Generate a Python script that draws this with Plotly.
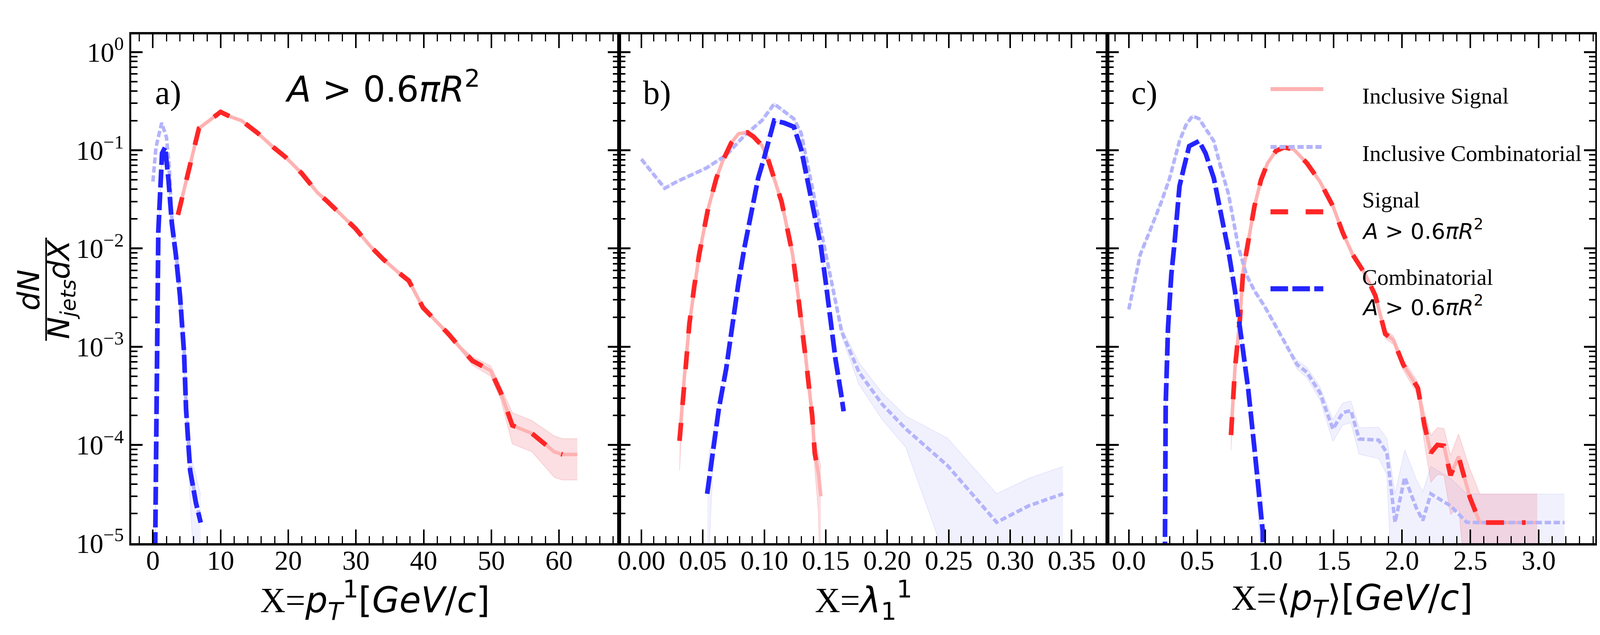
import plotly.graph_objects as go
from plotly.subplots import make_subplots

# ---- panel a: X = leading track pT ----
a_sig_x = [3.7, 5.9, 6.8, 10.0, 11.4, 13.1, 15.5, 17.8, 19.6, 22.0, 24.3, 25.8, 28.5, 29.9, 32.2,
           34.0, 36.0, 37.8, 39.9, 41.6, 43.7, 45.5, 47.2, 49.9, 51.4, 53.1, 56.0, 59.3, 60.5, 62.7]
a_sig_y = [0.022, 0.093, 0.167, 0.245, 0.22, 0.20, 0.149, 0.107, 0.085, 0.058, 0.037, 0.030, 0.020,
           0.016, 0.0104, 0.0078, 0.0059, 0.0047, 0.0025, 0.0019, 0.00134, 0.00096, 0.00072, 0.00057,
           0.00034, 0.000158, 0.000131, 0.000085, 0.00008, 0.00008]
a_sig_err = [0.03] * 21 + [0.05, 0.1, 0.12, 0.15, 0.35, 0.35, 0.45, 0.45, 0.45]

a_incomb_x = [0.0, 0.45, 1.3, 2.0, 2.4, 2.8, 3.4, 4.0, 4.6, 4.9, 5.5, 6.35, 7.06]
a_incomb_y = [0.048, 0.107, 0.19, 0.135, 0.07, 0.02, 0.0092, 0.0036, 0.00095, 0.00025, 0.00006,
              0.000027, 0.000017]

a_comb_x = [0.3, 0.8, 1.35, 1.8, 2.3, 2.8, 3.4, 4.0, 4.6, 4.9, 5.5, 6.35, 7.06]
a_comb_y = [5e-6, 0.015, 0.093, 0.107, 0.05, 0.018, 0.0085, 0.0033, 0.00087, 0.00023, 0.000055,
            0.0000258, 0.0000162]
a_comb_err = [0.03] * 10 + [0.5, 0.9, 0.9]

# ---- panel b: X = lambda_1^1 ----
b_sig_x = [0.031, 0.035, 0.039, 0.043, 0.047, 0.054, 0.061, 0.066, 0.073, 0.079, 0.086, 0.091, 0.098,
           0.103, 0.108, 0.114, 0.119, 0.123, 0.127, 0.131, 0.135, 0.139, 0.141, 0.144, 0.146]
b_sig_y = [0.00011, 0.0005, 0.0017, 0.0041, 0.0087, 0.0245, 0.052, 0.077, 0.118, 0.147, 0.152, 0.138,
           0.112, 0.081, 0.052, 0.030, 0.0152, 0.0087, 0.0037, 0.00156, 0.00055, 0.000195, 0.000083,
           0.000051, 0.00003]
b_sig_err = [0.5] + [0.03] * 20 + [0.1, 0.3, 0.6, 0.95]

b_incomb_x = [0.000, 0.019, 0.029, 0.053, 0.069, 0.084, 0.098, 0.108, 0.124, 0.130, 0.138, 0.148,
              0.156, 0.163, 0.177, 0.196, 0.215, 0.249, 0.289, 0.315, 0.343]
b_incomb_y = [0.081, 0.041, 0.048, 0.066, 0.089, 0.142, 0.20, 0.296, 0.209, 0.149, 0.048, 0.0115,
              0.0037, 0.00141, 0.00055, 0.000258, 0.000146, 0.0000616, 0.0000163, 0.000024, 0.0000318]
b_incomb_err = [0.03] * 13 + [0.1, 0.25, 0.3, 0.35, 0.9, 0.95, 0.9, 0.9]

b_comb_x = [0.0535, 0.058, 0.063, 0.069, 0.074, 0.079, 0.084, 0.090, 0.095, 0.100, 0.106, 0.108,
            0.116, 0.124, 0.130, 0.135, 0.140, 0.146, 0.150, 0.154, 0.158, 0.1625, 0.1645]
b_comb_y = [0.0000318, 0.000091, 0.000234, 0.0006, 0.00173, 0.0045, 0.0105, 0.027, 0.052, 0.085,
            0.165, 0.20, 0.19, 0.173, 0.102, 0.052, 0.0245, 0.0105, 0.0045, 0.00173, 0.00073,
            0.00033, 0.00022]
b_comb_err = [0.9, 0.4] + [0.03] * 21

# ---- panel c: X = <pT> ----
c_sig_x = [0.748, 0.777, 0.813, 0.837, 0.873, 0.920, 0.968, 1.016, 1.076, 1.136, 1.207, 1.303, 1.399,
           1.494, 1.566, 1.638, 1.733, 1.805, 1.877, 1.937, 2.008, 2.116, 2.164, 2.211, 2.259, 2.307,
           2.355, 2.414, 2.498, 2.570, 2.905, 2.99]
c_sig_y = [0.000126, 0.0006, 0.0019, 0.0059, 0.0115, 0.027, 0.050, 0.074, 0.098, 0.107, 0.102, 0.074,
           0.048, 0.027, 0.0145, 0.0087, 0.0054, 0.0033, 0.00135, 0.00117, 0.00066, 0.00038, 0.00016,
           0.000083, 0.0001, 0.000098, 0.000049, 0.000076, 0.0000289, 0.0000162, 0.0000162, 0.0000162]
c_sig_err = [0.3] + [0.03] * 17 + [0.1, 0.1, 0.12, 0.15, 0.35, 0.5, 0.5, 0.5, 0.6, 0.7, 0.95,
                                     0.95, 0.95, 0.95]

c_incomb_x = [0.0, 0.048, 0.084, 0.155, 0.239, 0.299, 0.371, 0.418, 0.466, 0.514, 0.562, 0.622, 0.669,
              0.729, 0.801, 0.861, 0.920, 0.992, 1.064, 1.160, 1.231, 1.303, 1.399, 1.494, 1.566,
              1.626, 1.686, 1.829, 1.889, 1.949, 2.020, 2.104, 2.152, 2.211, 2.355, 2.474, 2.570,
              2.9, 3.19]
c_incomb_y = [0.0024, 0.0049, 0.0087, 0.0152, 0.030, 0.052, 0.124, 0.18, 0.223, 0.209, 0.165, 0.124,
              0.070, 0.036, 0.0105, 0.0054, 0.0037, 0.0026, 0.00173, 0.00098, 0.00066, 0.00055,
              0.00034, 0.000145, 0.000213, 0.000224, 0.000115, 0.000112, 0.000083, 0.0000163,
              0.0000468, 0.0000229, 0.000017, 0.0000318, 0.000024, 0.0000163, 0.0000162, 0.0000162,
              0.0000162]
c_incomb_err = [0.03] * 20 + [0.1, 0.12, 0.15, 0.25, 0.25, 0.25, 0.3, 0.35, 0.4, 0.95, 0.9, 0.95,
                              0.95, 0.9, 0.9, 0.95, 0.95, 0.95, 0.95]

c_comb_x = [0.263, 0.270, 0.287, 0.311, 0.335, 0.371, 0.407, 0.442, 0.514, 0.562, 0.622, 0.681, 0.729,
            0.777, 0.825, 0.873, 0.920, 0.956, 0.980, 0.985]
c_comb_y = [4e-6, 0.00026, 0.00156, 0.0054, 0.0115, 0.043, 0.070, 0.110, 0.124, 0.093, 0.052, 0.020,
            0.0095, 0.0037, 0.00117, 0.00038, 0.000091, 0.0000318, 0.0000134, 4e-6]
c_comb_err = [0.0] + [0.03] * 14 + [0.15, 0.3, 0.6, 0.8, 0.0]

decade_vals = [1e-5, 1e-4, 1e-3, 1e-2, 1e-1, 1]
decade_text = ["10<sup>\u22125</sup>", "10<sup>\u22124</sup>", "10<sup>\u22123</sup>",
               "10<sup>\u22122</sup>", "10<sup>\u22121</sup>", "10<sup>0</sup>"]

PINK = "#ffb2b2"
LBLUE = "#b4b4fa"
RED = "#ff2626"
BLUE = "#2424ff"
SERIF = "Liberation Serif"
MATH = "DejaVu Sans"

# the browser viewport comes out 4096 css px wide, so horizontal sizes are scaled down
REF_W, H = 5000, 1625
W = 4096
KX = W / REF_W
L_REF, R_REF, T, B = 400, 25, 80, 243


def px(x):
    return (x - L_REF) / (REF_W - L_REF - R_REF)


def py(y):
    return (H - B - y) / (H - T - B)


fig = make_subplots(rows=1, cols=3, horizontal_spacing=0)


def add_band(x, y, err, fill, edge, col):
    lo = [max(v * (1 - e), 1e-8) for v, e in zip(y, err)]
    hi = [v * (1 + e) for v, e in zip(y, err)]
    fig.add_trace(go.Scatter(x=x, y=lo, mode="lines", line=dict(color=edge, width=2),
                             showlegend=False, hoverinfo="skip"), row=1, col=col)
    fig.add_trace(go.Scatter(x=x, y=hi, mode="lines", line=dict(color=edge, width=2),
                             fill="tonexty", fillcolor=fill, showlegend=False, hoverinfo="skip"),
                  row=1, col=col)


def add_line(x, y, color, width, dash, col):
    fig.add_trace(go.Scatter(x=x, y=y, mode="lines", line=dict(color=color, width=width, dash=dash),
                             showlegend=False), row=1, col=col)


pink_fill, pink_edge = "rgba(238,110,125,0.22)", "rgba(240,140,150,0.3)"
blue_fill, blue_edge = "rgba(140,140,250,0.12)", "rgba(150,150,250,0.2)"

DOT = "16px,7px"
RDASH = "46px,46px"
BDASH = "46px,12px"

panels = [
    (1, a_sig_x, a_sig_y, a_sig_err, a_incomb_x, a_incomb_y, None, a_comb_x, a_comb_y, a_comb_err),
    (2, b_sig_x, b_sig_y, b_sig_err, b_incomb_x, b_incomb_y, b_incomb_err, b_comb_x, b_comb_y, b_comb_err),
    (3, c_sig_x, c_sig_y, c_sig_err, c_incomb_x, c_incomb_y, c_incomb_err, c_comb_x, c_comb_y, c_comb_err),
]

for col, sx, sy, se, ix, iy, ie, cx, cy, ce in panels:
    if ie is not None:
        add_band(ix, iy, ie, blue_fill, blue_edge, col)
    add_band(cx, cy, ce, blue_fill, blue_edge, col)
    add_band(sx, sy, se, pink_fill, pink_edge, col)
    add_line(sx, sy, PINK, 9, "solid", col)
    add_line(ix, iy, LBLUE, 9, DOT, col)
    # signal with area cut follows the inclusive curve, ends one bin earlier
    add_line(sx[:-1], sy[:-1], RED, 12, RDASH, col)
    add_line(cx, cy, BLUE, 12, BDASH, col)

x_ranges = [[-3.2, 68.9], [-0.018, 0.379], [-0.1576, 3.415]]
x_major = [10, 0.05, 0.5]
x_minor = [2, 0.01, 0.1]
x_fmt = ["d", ".2f", ".1f"]

minor_y = [k * 10.0 ** e for e in range(-5, 0) for k in range(2, 10)]
tick_font = dict(family=SERIF, size=70, color="black")

for i in range(3):
    fig.update_xaxes(range=x_ranges[i], dtick=x_major[i], tick0=0, tickformat=x_fmt[i],
                     showline=True, linecolor="black", linewidth=6, mirror="allticks",
                     ticks="inside", ticklen=35, tickwidth=4, tickcolor="black",
                     minor=dict(ticks="inside", ticklen=18, tickwidth=3, tickcolor="black",
                                dtick=x_minor[i], tick0=0),
                     tickfont=tick_font, ticklabelstandoff=-22,
                     showgrid=False, zeroline=False, row=1, col=i + 1)
    fig.update_yaxes(type="log", range=[-5, 0.179], tickmode="array", tickvals=decade_vals,
                     ticktext=decade_text, showticklabels=(i == 0),
                     showline=True, linecolor="black", linewidth=5, mirror="allticks",
                     ticks="inside", ticklen=29, tickwidth=5, tickcolor="black",
                     minor=dict(ticks="inside", ticklen=16, tickwidth=4, tickcolor="black",
                                tickmode="array", tickvals=minor_y),
                     tickfont=tick_font,
                     showgrid=False, zeroline=False, row=1, col=i + 1)

ann = []


def text(x, y, s, size, family=SERIF, xanchor="left", angle=0):
    ann.append(dict(x=px(x), y=py(y), xref="paper", yref="paper", text=s, showarrow=False,
                    xanchor=xanchor, yanchor="middle", textangle=angle,
                    font=dict(family=family, size=size, color="black")))


cut_txt = "<i>A</i> > 0.6<i>\u03c0R</i><sup>2</sup>"

# panel labels
for x0, lab in [(472, "a)"), (1997, "b)"), (3522, "c)")]:
    text(x0, 229, lab, 86)
text(1185, 214, cut_txt, 90, family=MATH, xanchor="center")

# x titles
m = "<span style='font-family:DejaVu Sans'>"
text(1162, 1528, "X=" + m + "<i>p</i><sub><i>T</i></sub><sup>1</sup>[<i>GeV</i>/<i>c</i>]</span>",
     90, xanchor="center")
text(2688, 1528, "X=" + m + "<i>\u03bb</i><sub>1</sub><sup>1</sup></span>", 90, xanchor="center")
text(4214, 1528, "X=" + m + "\u27e8<i>p</i><sub><i>T</i></sub>\u27e9[<i>GeV</i>/<i>c</i>]</span>",
     90, xanchor="center")

# y title as a fraction
text(80, 734, "<i>dN</i>", 76, family=MATH, xanchor="center", angle=-90)
text(180, 732, "<i>N</i><sub><i>jets</i></sub><i>dX</i>", 76, family=MATH, xanchor="center", angle=-90)

# legend
text(4244, 238, "Inclusive Signal", 58)
text(4244, 385, "Inclusive Combinatorial", 58)
text(4244, 503, "Signal", 58)
text(4244, 579, cut_txt, 56, family=MATH)
text(4244, 701, "Combinatorial", 58)
text(4244, 774, cut_txt, 56, family=MATH)

shapes = [dict(type="line", xref="paper", yref="paper", x0=px(134), x1=px(134), y0=py(600), y1=py(864),
               line=dict(color="black", width=4))]
for yy, color, width, dash in [(220, PINK, 10, "solid"), (368, LBLUE, 10, DOT),
                               (534, RED, 13, "45px,45px"), (731, BLUE, 13, "45px,11px")]:
    shapes.append(dict(type="line", xref="paper", yref="paper", x0=px(3960), x1=px(4125),
                       y0=py(yy), y1=py(yy), line=dict(color=color, width=width, dash=dash)))

fig.update_layout(width=W, height=H,
                  margin=dict(l=L_REF * KX, r=R_REF * KX, t=T, b=B, autoexpand=False),
                  paper_bgcolor="white", plot_bgcolor="white", showlegend=False,
                  annotations=ann, shapes=shapes)

fig.write_html("out.html")
